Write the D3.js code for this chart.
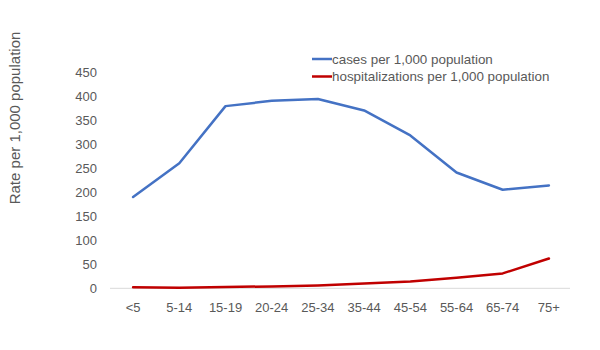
<!DOCTYPE html>
<html>
<head>
<meta charset="utf-8">
<script src="https://cdn.jsdelivr.net/npm/d3@7"></script>
<style>
  html, body { margin: 0; padding: 0; background: #fff; }
  svg { display: block; }
  text { font-family: "Liberation Sans", Arial, sans-serif; fill: #595959; }
</style>
</head>
<body>
<svg id="chart" width="600" height="350"></svg>
<script>
const categories = ["<5", "5-14", "15-19", "20-24", "25-34", "35-44", "45-54", "55-64", "65-74", "75+"];
const casesValues = [190, 260, 379, 390, 394, 370, 318, 241, 205, 214];
const hospValues = [2, 1, 2.5, 4, 6, 10, 14, 22, 31, 62];
const seriesNames = ["cases per 1,000 population", "hospitalizations per 1,000 population"];
const seriesColors = ["#4472C4", "#C00000"];
const yTicks = [0, 50, 100, 150, 200, 250, 300, 350, 400, 450];
const yTitle = "Rate per 1,000 population";

const svg = d3.select("#chart");
const mLeft = 110, mRight = 572, mTop = 72, mBottom = 288.3;

const x = d3.scalePoint().domain(categories).range([mLeft, mRight]).padding(0.5);
const y = d3.scaleLinear().domain([0, 450]).range([mBottom, mTop]);

// y tick labels
svg.append("g").selectAll("text").data(yTicks).join("text")
  .attr("x", 97).attr("y", d => y(d)).attr("dy", "0.35em")
  .attr("text-anchor", "end").attr("font-size", 13).text(d => d);

// x axis line
svg.append("line").attr("x1", mLeft).attr("x2", 570).attr("y1", y(0)).attr("y2", y(0))
  .attr("stroke", "#D9D9D9").attr("stroke-width", 1);

// x labels
svg.append("g").selectAll("text").data(categories).join("text")
  .attr("x", d => x(d)).attr("y", 311.5)
  .attr("text-anchor", "middle").attr("font-size", 13).text(d => d);

// y title
svg.append("text").attr("transform", "translate(20,118) rotate(-90)")
  .attr("text-anchor", "middle").attr("font-size", 15).text(yTitle);

const line = d3.line().x((d, i) => x(categories[i])).y(d => y(d));
[casesValues, hospValues].forEach((vals, k) => {
  svg.append("path").datum(vals).attr("d", line)
    .attr("fill", "none").attr("stroke", seriesColors[k]).attr("stroke-width", 2.5)
    .attr("stroke-linejoin", "round").attr("stroke-linecap", "round");
});

// legend
const lg = svg.append("g");
seriesNames.forEach((name, k) => {
  const ly = 59 + k * 17.5;
  lg.append("line").attr("x1", 312).attr("x2", 332).attr("y1", ly).attr("y2", ly)
    .attr("stroke", seriesColors[k]).attr("stroke-width", 2.5);
  lg.append("text").attr("x", 332).attr("y", ly).attr("dy", "0.35em")
    .attr("font-size", 13.4).text(name);
});
</script>
</body>
</html>
